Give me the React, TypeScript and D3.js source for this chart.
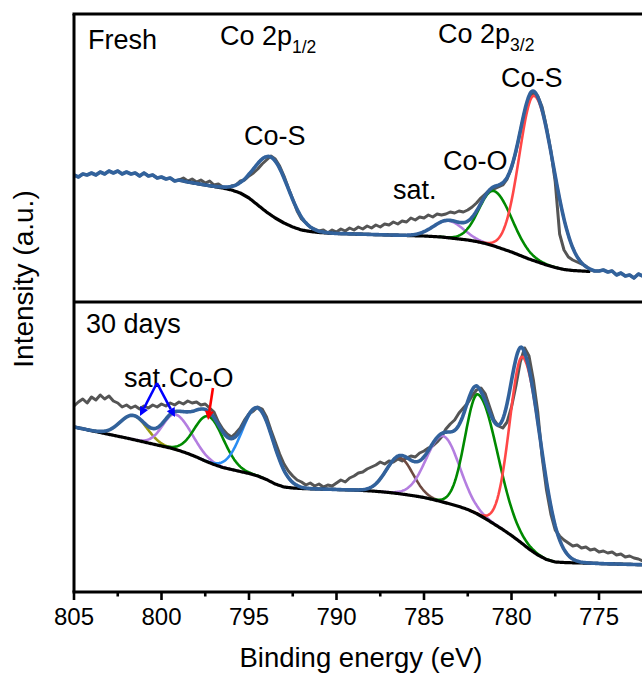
import React from "react";
import * as d3 from "d3";

// ---------------- data ----------------
const RAW_START = 805;
const RAW_STEP = 0.25;
const BG_STEP = 0.5;

// raw spectrum, Fresh (805 -> 772.5 eV, 0.25 eV step)
const freshRaw = [
  127, 125, 128, 127, 129, 127, 130, 128, 131, 129,
  131, 128, 130, 128, 129, 126, 129, 126, 127, 124,
  125, 123, 124, 121, 122, 124, 121, 123, 120, 122,
  119, 121, 117, 118, 115, 114, 116, 117, 121, 122,
  126, 129, 133, 138, 142, 146, 143, 136, 126, 114,
  103, 91, 83, 79, 75, 73, 71, 72, 69, 72,
  70, 73, 71, 74, 72, 75, 73, 76, 74, 77,
  75, 78, 77, 80, 78, 81, 80, 84, 82, 85,
  84, 87, 85, 88, 87, 88, 90, 89, 91, 90,
  92, 95, 99, 104, 108, 112, 113, 115, 117, 123,
  134, 150, 170, 190, 204, 210, 206, 195, 175, 151,
  120, 68, 52, 45, 42, 40, 38, 36, 32, 31,
  31, 32, 30, 31, 27, 29, 26, 27, 24, 28,
  26,
];

// raw spectrum, 30 days
const agedRaw = [
  186, 190, 193, 189, 195, 192, 197, 193, 196, 191,
  189, 185, 187, 184, 186, 183, 186, 184, 187, 185,
  188, 186, 189, 187, 190, 188, 191, 189, 190, 187,
  188, 184, 180, 170, 163, 158, 155, 159, 164, 172,
  178, 181, 185, 183, 175, 162, 150, 138, 128, 121,
  116, 112, 110, 107, 109, 106, 108, 105, 107, 106,
  109, 112, 110, 114, 116, 119, 120, 123, 125, 127,
  130, 128, 131, 130, 133, 131, 134, 136, 135, 139,
  141, 144, 146, 150, 155, 163, 168, 172, 179, 184,
  189, 196, 202, 204, 198, 185, 172, 166, 164, 170,
  185, 206, 230, 244, 236, 212, 180, 135, 102, 78,
  62, 56, 52, 49, 46, 47, 44, 45, 42, 43,
  40, 41, 39, 40, 37, 38, 35, 36, 34, 33,
  31,
];

// backgrounds (0.5 eV step)
const freshBgStart = 799;
const freshBg = [
  122, 120, 118.5, 117, 115.5, 114, 112, 109, 104, 97,
  90, 84, 79, 75, 72, 70.5, 69.5, 69, 68.5, 68.3,
  68, 67.8, 67.5, 67.3, 67, 66.8, 66.5, 66.2, 66, 65.5,
  65, 64, 63, 62, 60.5, 58.5, 56, 53, 50, 46.5,
  43, 40, 37, 34.5, 32.5, 31.5, 31, 30.5,
];
const agedBgStart = 805;
const agedBg = [
  165, 163.2, 161.3, 159.5, 157.6, 155.8, 154, 152, 150, 148,
  146, 144, 141.5, 138.5, 135, 131, 127.5, 124.5, 122.5, 120.5,
  118.5, 116, 112.5, 108, 105, 104, 103.5, 103.2, 103, 102.8,
  102.5, 102.2, 102, 101.5, 101, 100.3, 99.5, 98.5, 97.3, 96,
  94.5, 92.5, 90.3, 88, 85.5, 82.5, 78.5, 73.5, 68, 62.5,
  56.5, 50, 43, 37, 32.5, 30, 29.5, 29.2, 29, 28.8,
  28.5, 28.2, 28, 27.7, 27.5, 27.3,
];

const freshFitRange = [799, 775.5];
const agedFitRange = [805, 772.5];

// fitted components (centre eV, height, FWHM on high-BE side, FWHM on low-BE side)
const freshPeakNames = ["Co-S 2p1/2", "sat.", "Co-O", "Co-S"];
const freshPeakCenters = [793.7, 783.6, 781.0, 778.7];
const freshPeakHeights = [58, 17, 55, 165];
const freshPeakFwhmHigh = [2.3, 2.0, 2.0, 2.0];
const freshPeakFwhmLow = [2.3, 2.0, 2.4, 2.6];

const agedPeakNames = ["sat. 2p1/2 a", "sat. 2p1/2 b", "Co-O 2p1/2", "Co-S 2p1/2", "sat. 2p3/2 a", "sat. 2p3/2 b", "Co-O 2p3/2", "Co-S 2p3/2"];
const agedPeakCenters = [801.6, 799.2, 797.3, 794.5, 786.4, 783.9, 781.9, 779.35];
const agedPeakHeights = [24, 35, 46, 68, 36, 66, 120, 187];
const agedPeakFwhmHigh = [1.8, 1.7, 1.9, 2.1, 1.8, 2.25, 1.75, 1.75];
const agedPeakFwhmLow = [1.8, 2.2, 2.0, 2.1, 1.8, 2.2, 2.6, 2.4];

const xMajorTicks = [805, 800, 795, 790, 785, 780, 775];
const xMinorTicks = [802.5, 797.5, 792.5, 787.5, 782.5, 777.5];

// ---------------- styles ----------------
const C = {
  raw: "#555555",
  env: "#32629c",
  bg: "#000000",
  red: "#ff4747",
  green: "#008a00",
  purple: "#b47ee0",
  brown: "#6e4b42",
  olive: "#9a9a10",
  lblue: "#2a8cf2",
};
const freshPeakColors = [C.lblue, C.purple, C.green, C.red];
const agedPeakColors = [C.olive, C.purple, C.green, C.lblue, C.brown, C.purple, C.green, C.red];

const FONT = "'Liberation Sans', Arial, Helvetica, sans-serif";
const W = 642;
const H = 675;
const plotLeft = 74;
const plotRight = 642.75;
const topY = 14;
const midY = 302;
const botY = 592;

const x = d3.scaleLinear().domain([805, 772.5]).range([plotLeft, plotRight]);
const yTop = d3.scaleLinear().domain([0, 288]).range([midY, topY]);
const yBot = d3.scaleLinear().domain([0, 290]).range([botY, midY]);

function peak(e: number, c: number, h: number, wh: number, wl: number) {
  const w = e >= c ? wh : wl;
  const d = e - c;
  return h * Math.exp((-4 * Math.LN2 * d * d) / (w * w));
}

function buildPanel(
  raw: number[], bgStart: number, bgVals: number[], fit: number[],
  centers: number[], heights: number[], wh: number[], wl: number[]
) {
  const rawPts: [number, number][] = raw.map((v, i) => [RAW_START - i * RAW_STEP, v]);
  const bgE = bgVals.map((_, i) => bgStart - i * BG_STEP);
  const bgScale = d3.scaleLinear().domain(bgE).range(bgVals).clamp(true);
  const n = Math.round((fit[0] - fit[1]) / 0.05);
  const fine = d3.range(n + 1).map((k) => fit[0] - k * 0.05);
  const comp = (e: number, j: number) => peak(e, centers[j], heights[j], wh[j], wl[j]);
  const total = (e: number) => centers.reduce((s, _, j) => s + comp(e, j), 0);
  const bgPts: [number, number][] = fine.map((e) => [e, bgScale(e)]);
  const envFit: [number, number][] = fine.map((e) => [e, bgScale(e) + total(e)]);
  const env: [number, number][] = [
    ...rawPts.filter((p) => p[0] > fit[0] + 1e-6),
    ...envFit,
    ...rawPts.filter((p) => p[0] < fit[1] - 1e-6),
  ];
  const comps = centers.map((_, j) =>
    fine.filter((e) => comp(e, j) > 0.05).map((e) => [e, bgScale(e) + comp(e, j)] as [number, number])
  );
  return { rawPts, bgPts, env, comps };
}

const fresh = buildPanel(freshRaw, freshBgStart, freshBg, freshFitRange, freshPeakCenters, freshPeakHeights, freshPeakFwhmHigh, freshPeakFwhmLow);
const aged = buildPanel(agedRaw, agedBgStart, agedBg, agedFitRange, agedPeakCenters, agedPeakHeights, agedPeakFwhmHigh, agedPeakFwhmLow);

function Panel({ data, y, colors }: { data: ReturnType<typeof buildPanel>; y: d3.ScaleLinear<number, number>; colors: string[] }) {
  const line = d3.line<[number, number]>().x((d) => x(d[0])).y((d) => y(d[1]));
  return (
    <g>
      <path d={line(data.rawPts) || ""} fill="none" stroke={C.raw} strokeWidth={3} strokeLinejoin="round" />
      {data.comps.map((c, j) => (
        <path key={j} d={line(c) || ""} fill="none" stroke={colors[j]} strokeWidth={2.6} strokeLinejoin="round" />
      ))}
      <path d={line(data.bgPts) || ""} fill="none" stroke={C.bg} strokeWidth={3.2} strokeLinejoin="round" />
      <path d={line(data.env) || ""} fill="none" stroke={C.env} strokeWidth={3.6} strokeLinejoin="round" strokeLinecap="round" />
    </g>
  );
}

function Arrow({ x1, y1, x2, y2, color }: { x1: number; y1: number; x2: number; y2: number; color: string }) {
  const dx = x2 - x1, dy = y2 - y1;
  const len = Math.hypot(dx, dy);
  const ux = dx / len, uy = dy / len;
  const hl = 9, hw = 4.5;
  const bx = x2 - ux * hl, by = y2 - uy * hl;
  const pts = `${x2},${y2} ${bx - uy * hw},${by + ux * hw} ${bx + uy * hw},${by - ux * hw}`;
  return (
    <g>
      <line x1={x1} y1={y1} x2={bx} y2={by} stroke={color} strokeWidth={2.6} />
      <polygon points={pts} fill={color} />
    </g>
  );
}

// annotation anchors (eV, intensity)
const agedSatApex = [800.26, 209];
const agedSatTips = [[801.23, 176], [799.23, 175]];
const agedCoOTail = [797.06, 204];
const agedCoOTip = [797.34, 172];

export default function App() {
  const T = (props: any) => <text fontFamily={FONT} fill="#000" {...props} />;
  return (
    <svg width={W} height={H} style={{ position: "absolute", left: 0, top: 0, background: "#fff" }}>
      <rect width={W} height={H} fill="#fff" />
      <defs>
        <clipPath id="clipTop"><rect x={plotLeft} y={topY} width={plotRight - plotLeft} height={midY - topY} /></clipPath>
        <clipPath id="clipBot"><rect x={plotLeft} y={midY} width={plotRight - plotLeft} height={botY - midY} /></clipPath>
      </defs>
      <g clipPath="url(#clipTop)">
        <Panel data={fresh} y={yTop} colors={freshPeakColors} />
      </g>
      <g clipPath="url(#clipBot)">
        <Panel data={aged} y={yBot} colors={agedPeakColors} />
      </g>

      {/* frame */}
      <g stroke="#000" strokeWidth={3} fill="none">
        <line x1={plotLeft - 1.5} y1={topY} x2={W + 5} y2={topY} />
        <line x1={plotLeft} y1={midY} x2={W + 5} y2={midY} />
        <line x1={plotLeft - 1.5} y1={botY} x2={W + 5} y2={botY} />
        <line x1={plotLeft} y1={topY} x2={plotLeft} y2={botY} />
      </g>

      {/* x axis ticks */}
      <g stroke="#000" strokeWidth={2.6}>
        {xMajorTicks.map((t) => <line key={t} x1={x(t)} x2={x(t)} y1={botY} y2={botY + 8} />)}
        {xMinorTicks.map((t) => <line key={t} x1={x(t)} x2={x(t)} y1={botY} y2={botY + 4.5} />)}
      </g>
      {xMajorTicks.map((t) => (
        <T key={t} x={x(t)} y={625} fontSize={24} textAnchor="middle">{t}</T>
      ))}
      <T x={361} y={667} fontSize={27.5} textAnchor="middle">Binding energy (eV)</T>
      <T transform={`translate(33,279) rotate(-90)`} fontSize={28} textAnchor="middle">Intensity (a.u.)</T>

      {/* Fresh panel labels */}
      <T x={x(804.2)} y={yTop(253)} fontSize={27}>Fresh</T>
      <T x={x(796.66)} y={yTop(257)} fontSize={27}>Co 2p<tspan fontSize={17.5} dy={8}>1/2</tspan></T>
      <T x={x(784.2)} y={yTop(259)} fontSize={27}>Co 2p<tspan fontSize={17.5} dy={8}>3/2</tspan></T>
      <T x={x(795.29)} y={yTop(157)} fontSize={27}>Co-S</T>
      <T x={x(780.6)} y={yTop(215)} fontSize={27}>Co-S</T>
      <T x={x(783.91)} y={yTop(132)} fontSize={27}>Co-O</T>
      <T x={x(786.77)} y={yTop(103)} fontSize={27}>sat.</T>

      {/* 30 days panel labels */}
      <T x={x(804.31)} y={yBot(259)} fontSize={27}>30 days</T>
      <T x={x(802.14)} y={yBot(205)} fontSize={27}>sat.</T>
      <T x={x(799.57)} y={yBot(205)} fontSize={27}>Co-O</T>
      {agedSatTips.map((tp, i) => (
        <Arrow key={i} x1={x(agedSatApex[0])} y1={yBot(agedSatApex[1])} x2={x(tp[0])} y2={yBot(tp[1])} color="#0000ff" />
      ))}
      <Arrow x1={x(agedCoOTail[0])} y1={yBot(agedCoOTail[1])} x2={x(agedCoOTip[0])} y2={yBot(agedCoOTip[1])} color="#ff0000" />
    </svg>
  );
}
